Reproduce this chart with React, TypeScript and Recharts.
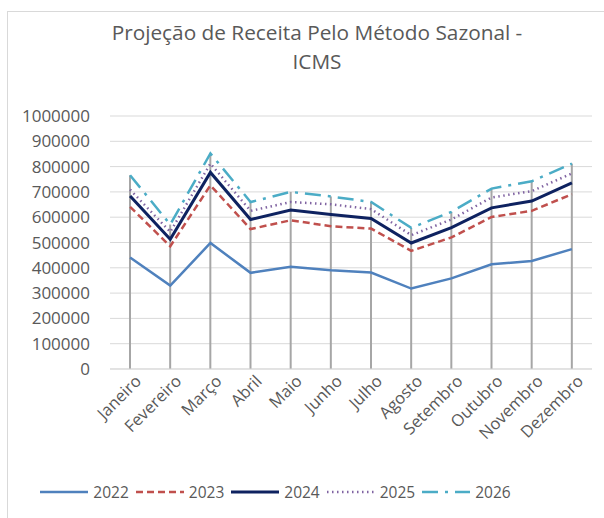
import { ComposedChart, Line, Bar, XAxis, YAxis, CartesianGrid, Legend } from 'recharts';

const months = ['Janeiro', 'Fevereiro', 'Março', 'Abril', 'Maio', 'Junho', 'Julho', 'Agosto', 'Setembro', 'Outubro', 'Novembro', 'Dezembro'];
const v2022 = [441000, 330000, 498000, 380000, 404000, 390000, 381000, 318000, 358000, 414000, 427000, 474000];
const v2023 = [641000, 485000, 726000, 553000, 588000, 564000, 555000, 467000, 520000, 601000, 625000, 691000];
const v2024 = [684000, 513000, 777000, 591000, 628000, 611000, 595000, 498000, 559000, 637000, 664000, 736000];
const v2025 = [709000, 542000, 812000, 625000, 660000, 651000, 632000, 529000, 591000, 678000, 703000, 773000];
const v2026 = [766000, 571000, 852000, 660000, 700000, 682000, 660000, 558000, 621000, 713000, 742000, 812000];
const yTicks = [0, 100000, 200000, 300000, 400000, 500000, 600000, 700000, 800000, 900000, 1000000];

const series = [
  { key: '2022', values: v2022, color: '#4f81bd', width: 2.5, dash: undefined },
  { key: '2023', values: v2023, color: '#c0504d', width: 2.5, dash: '7 4' },
  { key: '2024', values: v2024, color: '#0e2260', width: 3, dash: undefined },
  { key: '2025', values: v2025, color: '#8064a2', width: 2.5, dash: '1.5 3.5' },
  { key: '2026', values: v2026, color: '#4bacc6', width: 2.5, dash: '16 7 3 7' },
];

const data = months.map((m, i) => {
  const row: Record<string, string | number> = { month: m };
  series.forEach((s) => (row[s.key] = s.values[i]));
  row.drop = Math.max(...series.map((s) => s.values[i]));
  return row;
});

const font = '"Open Sans", sans-serif';

function renderLegend() {
  return (
    <div style={{ display: 'flex', justifyContent: 'center', alignItems: 'center', fontFamily: font, fontSize: 15.5, color: '#595959' }}>
      {series.map((s) => (
        <div key={s.key} style={{ display: 'flex', alignItems: 'center', marginRight: 6 }}>
          <svg width={50} height={10} style={{ marginRight: 4 }}>
            <line x1={1} y1={5} x2={49} y2={5} stroke={s.color} strokeWidth={s.width} strokeDasharray={s.dash} />
          </svg>
          <span>{s.key}</span>
        </div>
      ))}
    </div>
  );
}

export default function App() {
  return (
    <div style={{ position: 'absolute', left: 0, top: 0, width: 604, height: 518, overflow: 'hidden', background: '#fff' }}>
      <div style={{ position: 'absolute', left: 7, top: 11, width: 700, height: 700, border: '1px solid #d9d9d9' }} />
      <div style={{ position: 'absolute', left: 0, top: 18, width: 634, textAlign: 'center', fontFamily: font, fontSize: 20.8, lineHeight: '29px', color: '#595959' }}>
        Projeção de Receita Pelo Método Sazonal -<br />ICMS
      </div>
      <ComposedChart
        width={604}
        height={518}
        data={data}
        margin={{ top: 116, right: 12, bottom: 0, left: 0 }}
        style={{ position: 'absolute', left: 0, top: 0 }}
      >
        <CartesianGrid vertical={false} stroke="#d9d9d9" strokeWidth={1} />
        <XAxis
          dataKey="month"
          height={149}
          interval={0}
          axisLine={{ stroke: '#d9d9d9' }}
          tickLine={false}
          tickSize={0}
          tickMargin={5}
          angle={-45}
          textAnchor="end"
          dx={4}
          tick={{ fill: '#595959', fontSize: 16.5, fontFamily: font }}
        />
        <YAxis
          width={110}
          domain={[0, 1000000]}
          ticks={yTicks}
          interval={0}
          axisLine={false}
          tickLine={false}
          tickSize={0}
          tickMargin={20}
          tick={{ fill: '#595959', fontSize: 17, fontFamily: font }}
        />
        <Bar dataKey="drop" barSize={2} fill="#a6a6a6" isAnimationActive={false} legendType="none" />
        {series.map((s) => (
          <Line
            key={s.key}
            type="linear"
            dataKey={s.key}
            stroke={s.color}
            strokeWidth={s.width}
            strokeDasharray={s.dash}
            dot={false}
            activeDot={false}
            isAnimationActive={false}
          />
        ))}
        <Legend
          layout="horizontal"
          verticalAlign="middle"
          align="center"
          content={renderLegend}
          wrapperStyle={{ top: 481, left: 0, width: 556 }}
        />
      </ComposedChart>
    </div>
  );
}
